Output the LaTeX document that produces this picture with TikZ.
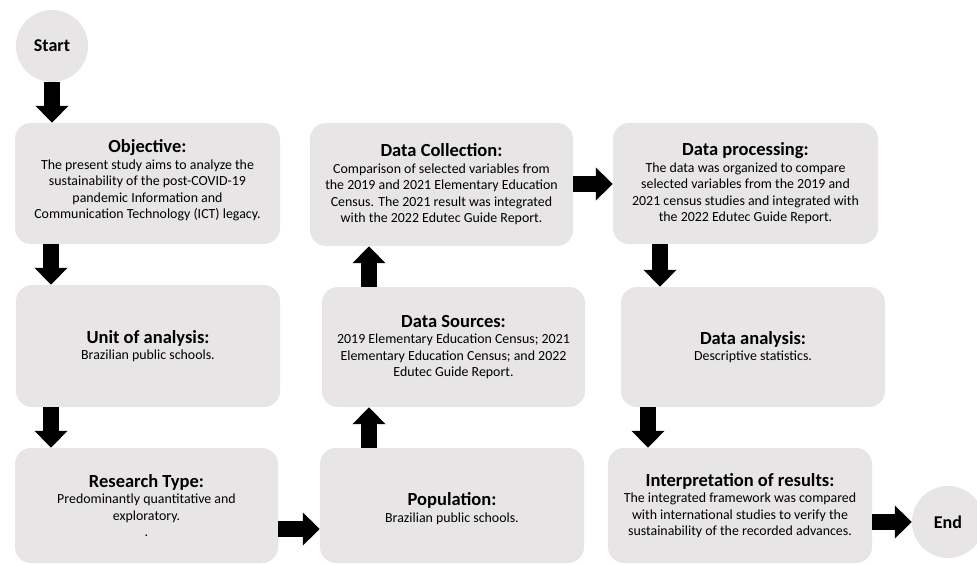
\documentclass[tikz,border=0pt]{standalone}
\usepackage{fontspec}
\setmainfont{Carlito}
\usetikzlibrary{arrows.meta,calc}
\definecolor{boxgrey}{RGB}{231,229,230}
\tikzset{
  stagebox/.style={fill=boxgrey, rounded corners=16pt, inner sep=0pt},
  stagetext/.style={inner sep=0pt, align=center, font=\fontsize{13.9}{16.5}\selectfont},
  endpoint/.style={circle, fill=boxgrey, inner sep=0pt, minimum size=72pt,
    font=\fontsize{18}{21}\selectfont\bfseries},
  fatarrow/.style={line width=16pt, -{Triangle[width=32pt,length=17pt]}},
}
\newcommand{\hd}[1]{{\fontsize{18.5}{20}\selectfont\bfseries #1}\\}
% a box given by its corners (x1,y1) (x2,y2), y measured downwards;
% the optional argument moves the text block up or down
\newcommand{\stage}[7][0]{%
  \node[stagebox, minimum width=#5-#3, minimum height=#6-#4]
    (#2) at ({(#3+#5)/2},{(#4+#6)/2}) {};
  \node[stagetext] (#2-text) at ($(#2.center)+(0,#1)$) {#7};}
\begin{document}
\begin{tikzpicture}[x=1pt,y=-1pt]
\useasboundingbox (0,0) rectangle (977,564);

\node[endpoint] (start) at (52,46) {Start};
\node[endpoint] (end) at (948,522) {End};

% left column
\stage[-3]{obj}{15}{123}{280}{244}{\hd{Objective:}The present study aims to analyze the\\
  sustainability of the post-COVID-19\\ pandemic Information and\\
  Communication Technology (ICT) legacy.}
\stage{unit}{16}{285}{280}{407}{\hd{Unit of analysis:}Brazilian public schools.}
\stage{rtype}{15}{448}{278}{563}{\hd{Research Type:}Predominantly quantitative and\\
  exploratory.\\ .}

% middle column
\stage{coll}{310}{123}{573}{246}{\hd{Data Collection:}Comparison of selected variables from\\
  the 2019 and 2021 Elementary Education\\ Census. The 2021 result was integrated\\
  with the 2022 Edutec Guide Report.}
\stage{src}{322}{287}{585}{407}{\hd{Data Sources:}2019 Elementary Education Census; 2021\\
  Elementary Education Census; and 2022\\ Edutec Guide Report.}
\stage[3]{pop}{320}{448}{584}{563}{\hd{Population:}Brazilian public schools.}

% right column
\stage{proc}{613}{123}{878}{244}{\hd{Data processing:}The data was organized to compare\\
  selected variables from the 2019 and\\ 2021 census studies and integrated with\\
  the 2022 Edutec Guide Report.}
\stage{anal}{621}{287}{885}{407}{\hd{Data analysis:}Descriptive statistics.}
\stage{interp}{608}{448}{872}{563}{\hd{Interpretation of results:}The integrated framework was compared\\
  with international studies to verify the\\ sustainability of the recorded advances.}

% connectors
\coordinate (lx) at (51,0);
\draw[fatarrow] (start.south) -- (start |- obj.north);
\draw[fatarrow] (lx |- obj.south) -- (lx |- unit.north);
\draw[fatarrow] (lx |- unit.south) -- (lx |- rtype.north);
\coordinate (ly) at (0,529);
\draw[fatarrow] (rtype.east |- ly) -- (pop.west |- ly);
\coordinate (mx) at (369,0);
\draw[fatarrow] (mx |- pop.north) -- (mx |- src.south);
\draw[fatarrow] (mx |- src.north) -- (mx |- coll.south);
\coordinate (ty) at (0,184);
\draw[fatarrow] (coll.east |- ty) -- (proc.west |- ty);
\coordinate (px) at (660,0);
\draw[fatarrow] (px |- proc.south) -- (px |- anal.north);
\coordinate (rx) at (648,0);
\draw[fatarrow] (rx |- anal.south) -- (rx |- interp.north);
\draw[fatarrow] (interp.east |- end) -- (end.west);
\end{tikzpicture}
\end{document}
